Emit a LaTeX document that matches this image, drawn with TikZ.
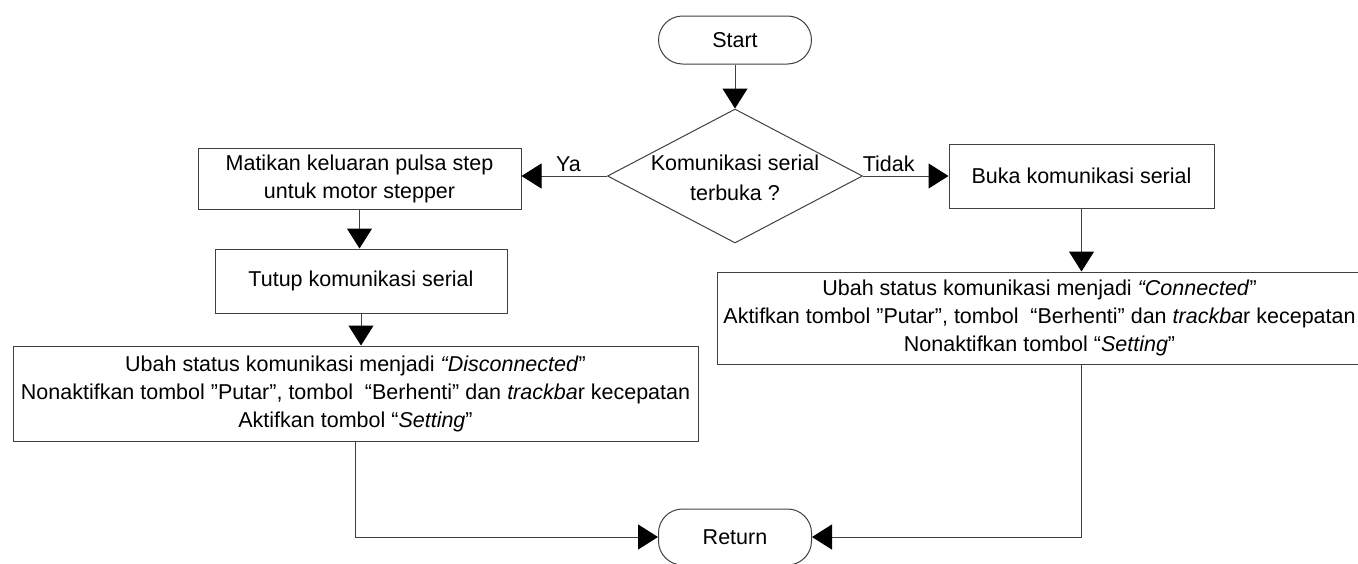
\documentclass[tikz,border=0pt]{standalone}
\usepackage{fontspec}
\setmainfont{Liberation Sans}
\usetikzlibrary{shapes.geometric,arrows.meta}

\begin{document}
\begin{tikzpicture}[x=1pt,y=-1pt,
  every node/.style={font=\fontsize{21.5}{28}\selectfont},
  proc/.style={draw=black!75,line width=1pt,rectangle,inner sep=0pt,align=center},
  term/.style={draw=black!75,line width=1pt,rectangle,rounded corners=24pt,
    minimum width=153pt,inner sep=0pt},
  decision/.style={draw=black!75,line width=1pt,diamond,inner sep=0pt,
    minimum width=255pt,minimum height=134pt},
  flow/.style={draw=black!75,line width=1pt,-{Triangle[length=20pt,width=25pt,black]}}]
\useasboundingbox (0,0) rectangle (1358,563);
\node[term,minimum height=48pt] (start) at (735,40) {Start};
\node[decision] (dec) at (735,176) {};
\node[align=center,font=\fontsize{21.5}{30}\selectfont] (decq) at (735,178) {Komunikasi serial\\terbuka ?};
\node[proc,minimum width=323pt,minimum height=61pt] (off) at (359.5,178.5) {Matikan keluaran pulsa step\\untuk motor stepper};
\node[proc,minimum width=292pt,minimum height=64pt] (close) at (361,281) {Tutup komunikasi serial};
\node[proc,minimum width=685pt,minimum height=95pt] (dstat) at (355.5,393.5)
  {Ubah status komunikasi menjadi \textit{“Disconnected}”\\
   Nonaktifkan tombol ”Putar”, tombol \ “Berhenti” dan \textit{trackba}r kecepatan\\
   Aktifkan tombol “\textit{Setting}”};
\node[proc,minimum width=265pt,minimum height=64pt] (open) at (1081.5,176) {Buka komunikasi serial};
\node[proc,minimum width=645pt,minimum height=92pt] (cstat) at (1039.5,318)
  {Ubah status komunikasi menjadi \textit{“Connected}”\\
   Aktifkan tombol ”Putar”, tombol \ “Berhenti” dan \textit{trackba}r kecepatan\\
   Nonaktifkan tombol “\textit{Setting}”};
\node[term,minimum height=56pt] (ret) at (735,537) {Return};

\draw[flow] (start) -- (dec);
\draw[flow] (dec.west) -- node[pos=0.45,above] (ya) {Ya} (dec.west -| off.east);
\draw[flow] (dec.east) -- node[pos=0.3,above] (tidak) {Tidak} (dec.east -| open.west);
\draw[flow] (off.south) -- (off.south |- close.north);
\draw[flow] (close.south) -- (close.south |- dstat.north);
\draw[flow] (open.south) -- (open.south |- cstat.north);
\draw[flow] (dstat.south) |- (ret.west);
\draw[flow] (open.south |- cstat.south) |- (ret.east);
\end{tikzpicture}
\end{document}
